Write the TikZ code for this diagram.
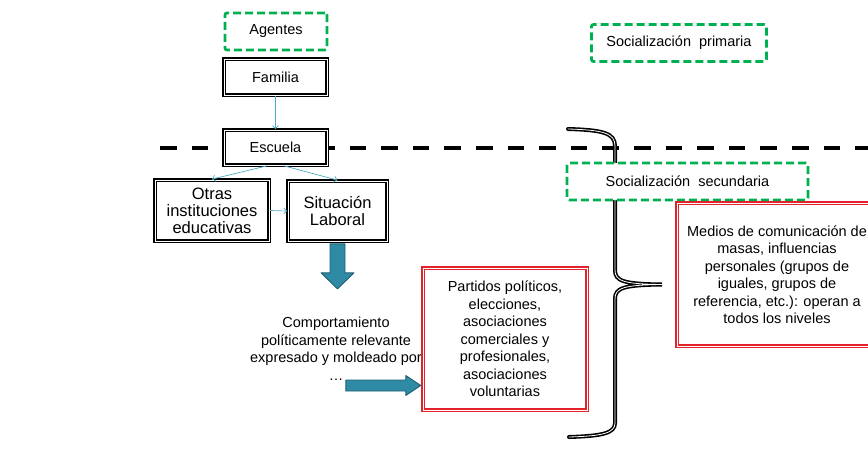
\documentclass[tikz,border=0pt]{standalone}
\usepackage{fontspec}
\setmainfont{Liberation Sans}
\usetikzlibrary{arrows.meta}
\definecolor{agreen}{HTML}{00B050}
\definecolor{ared}{HTML}{E3232B}
\definecolor{lblue}{HTML}{4BACC6}
\definecolor{teal1}{HTML}{2F8AA5}
\definecolor{teal2}{HTML}{1E5E70}
\tikzset{
  txt/.style={font=\fontsize{14.5}{17.5}\selectfont, align=center, inner sep=0pt},
  bigtxt/.style={font=\fontsize{16.5}{17}\selectfont, align=center, inner sep=0pt},
  greenbox/.style={txt, draw=agreen, line width=2.8pt, dash pattern=on 8pt off 4pt,
    rounded corners=2pt, fill=white},
  blackbox/.style={draw=black, double=white, line width=1.7pt, double distance=0.9pt, fill=white},
  redbox/.style={txt, draw=ared, double=white, line width=1.4pt, double distance=1pt, fill=white},
  thinarrow/.style={draw=lblue, line width=0.7pt, -{Straight Barb[length=3pt,width=6pt]}},
  blockarrow/.style={fill=teal1, draw=teal2, line width=0.9pt, line join=round},
  cutline/.style={draw=black, line width=4pt, dash pattern=on 16.5pt off 15.1pt},
  bracestyle/.style={draw=black, double=white, line width=1.6pt, double distance=0.8pt, line cap=round}
}
\begin{document}
\begin{tikzpicture}[x=1pt, y=-1pt]
\useasboundingbox (0,0) rectangle (868,463);

% dashed divider between primary and secondary socialization
\draw[cutline] (160,148) -- (880,148);

% large brace grouping the secondary agents
\draw[bracestyle] (568,129) .. controls (603,130) and (615,133) .. (615,146)
  -- (615,270) .. controls (615,281) and (623,284) .. (662,284.5)
  .. controls (623,285) and (615,288) .. (615,299)
  -- (615,423) .. controls (615,433) and (603,436) .. (569,437);

% agents column
\node[greenbox, minimum width=102pt, minimum height=37pt] (agentes) at (276,31.5) {Agentes};
\node[blackbox, txt, minimum width=103pt, minimum height=36pt] (familia) at (275.5,77) {Familia};
\node[blackbox, txt, minimum width=103pt, minimum height=35pt] (escuela) at (275.5,147.5) {Escuela};
\node[blackbox, bigtxt, minimum width=114pt, minimum height=61pt] (otras) at (212,210.5)
  {Otras\\instituciones\\educativas};
\node[blackbox, bigtxt, minimum width=99pt, minimum height=60pt] (laboral) at (337.5,211)
  {Situación\\Laboral};

\draw[thinarrow] (familia.south) -- (escuela.north);
\draw[thinarrow] ([xshift=-8.5pt]escuela.south) -- (otras.north);
\draw[thinarrow] ([xshift=8.5pt]escuela.south) -- (laboral.north);
\draw[thinarrow] (otras.east) -- (laboral.west);

% outcome text and the two block arrows
\node[txt] (comport) at (336,348.5)
  {Comportamiento\\políticamente relevante\\expresado y moldeado por\\\ldots};

\node[redbox, minimum width=164pt, minimum height=142pt] (partidos) at (505,339)
  {Partidos políticos,\\elecciones,\\asociaciones\\comerciales y\\profesionales,\\asociaciones\\voluntarias};

\coordinate (dtop) at ([yshift=-2pt]laboral.south);
\draw[blockarrow] (dtop) ++(-7.5,0) -- ++(15,0) -- ++(0,29) -- ++(9,0)
  -- ++(-16.5,16) -- ++(-16.5,-16) -- ++(9,0) -- cycle;

\coordinate (rtip) at ([xshift=-1.5pt,yshift=-46.5pt]partidos.west);
\draw[blockarrow] (rtip) -- ++(-15,-10) -- ++(0,4.5) -- ++(-60,0) -- ++(0,11)
  -- ++(60,0) -- ++(0,4.5) -- cycle;

% secondary socialization side
\node[greenbox, minimum width=175pt, minimum height=37pt] (primaria) at (679,43)
  {Socialización\ \ primaria};
\node[greenbox, minimum width=241pt, minimum height=37pt] (secundaria) at (687.5,181.5)
  {Socialización\ \ secundaria};
\node[redbox, minimum width=200pt, minimum height=143pt] (medios) at (777,274.5)
  {Medios de comunicación de\\masas, influencias\\personales (grupos de\\iguales, grupos de\\referencia, etc.): operan a\\todos los niveles};
\end{tikzpicture}
\end{document}
